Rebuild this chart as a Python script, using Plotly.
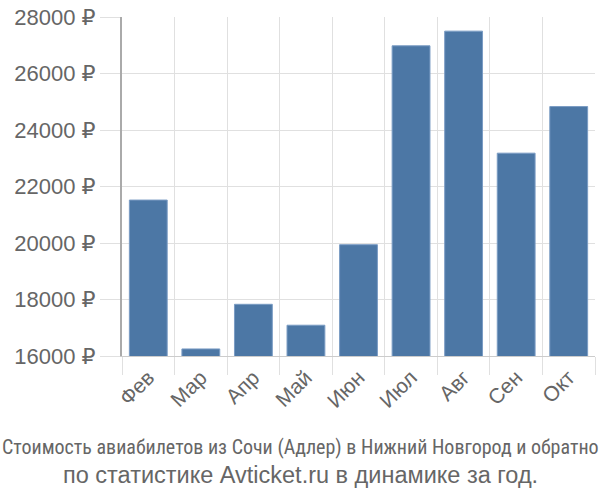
import plotly.graph_objects as go

months = ["Фев", "Мар", "Апр", "Май", "Июн", "Июл", "Авг", "Сен", "Окт"]
prices = [21520, 16250, 17830, 17090, 19940, 26980, 27500, 23180, 24830]
y_ticks = [16000, 18000, 20000, 22000, 24000, 26000, 28000]
y_tick_text = [f"{v} ₽" for v in y_ticks]
title_line1 = "Стоимость авиабилетов из Сочи (Адлер) в Нижний Новгород и обратно"
title_line2 = "по статистике Avticket.ru в динамике за год."

W, H = 600, 500
ML, MR, MT, MB = 122, 5, 15, 144
center_x = (W / 2 - ML) / (W - ML - MR)

fig = go.Figure(go.Bar(
    x=months, y=prices,
    marker=dict(color="#4c77a5", line=dict(color="#7a9cc4", width=1)),
    width=0.72,
))

fig.update_layout(
    width=W, height=H,
    margin=dict(l=ML, r=MR, t=MT, b=MB),
    plot_bgcolor="white", paper_bgcolor="white",
    showlegend=False,
    font=dict(family="Arial, Liberation Sans, DejaVu Sans, sans-serif", color="#666666"),
    annotations=[
        dict(text=title_line1, xref="paper", yref="paper", x=center_x, y=-0.267,
             xanchor="center", yanchor="middle", showarrow=False,
             font=dict(family="Liberation Sans Narrow, Roboto Condensed, Liberation Sans, sans-serif", size=20, color="#666666")),
        dict(text=title_line2, xref="paper", yref="paper", x=center_x, y=-0.352,
             xanchor="center", yanchor="middle", showarrow=False,
             font=dict(family="Arial, Liberation Sans, sans-serif", size=23.5, color="#666666")),
    ],
)

fig.update_xaxes(
    type="category", tickson="boundaries", range=[-0.5, len(months) - 0.5],
    showgrid=True, gridcolor="#e0e0e0", gridwidth=1,
    ticks="outside", ticklen=18, tickcolor="#e0e0e0", tickwidth=1,
    tickangle=-45, tickfont=dict(size=21, color="#666666"),
    showline=True, linecolor="#cccccc", linewidth=1,
)
fig.update_yaxes(
    range=[16000, 28000], tickvals=y_ticks, ticktext=y_tick_text,
    showgrid=True, gridcolor="#e0e0e0", gridwidth=1,
    ticks="outside", ticklen=20, tickcolor="#e0e0e0", tickwidth=1,
    tickfont=dict(size=22, color="#666666"),
    showline=True, linecolor="#aaaaaa", linewidth=2,
    zeroline=False,
)

fig.write_html("out.html")
